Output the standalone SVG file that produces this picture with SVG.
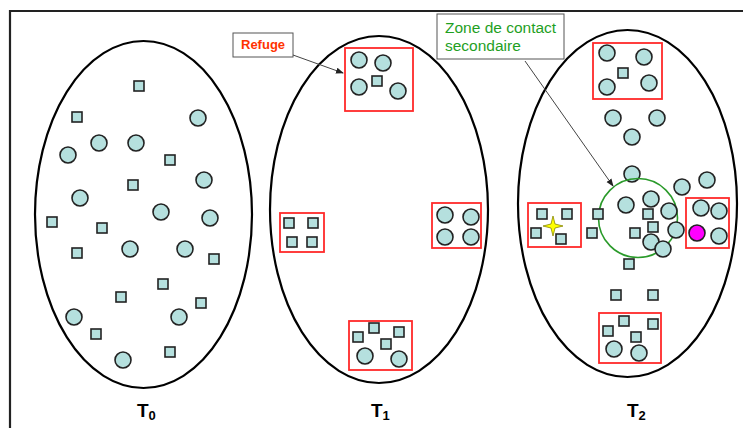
<svg xmlns="http://www.w3.org/2000/svg" width="743" height="428" viewBox="0 0 743 428">
<style>
.c{fill:#b5e0de;stroke:#222;stroke-width:1.6}
.s{fill:#b5e0de;stroke:#222;stroke-width:1.6}
.ell{fill:none;stroke:#000;stroke-width:2.2}
.box{fill:none;stroke:#ff2a2a;stroke-width:1.8}
.lbl{fill:#fff;stroke:#555;stroke-width:1}
.t{font-family:"Liberation Sans",Arial,sans-serif;font-weight:bold;font-size:19px;fill:#000}
.sub{font-size:13px}
</style>
<defs>
<marker id="ah" markerWidth="8" markerHeight="8" refX="7" refY="4" orient="auto" markerUnits="userSpaceOnUse">
<path d="M0,1 L8,4 L0,7 Z" fill="#222"/>
</marker>
</defs>
<rect x="0" y="0" width="743" height="428" fill="#fff"/>
<path d="M10,428 L10,11 L743,11" fill="none" stroke="#222" stroke-width="2.2"/>

<g id="T0">
<ellipse class="ell" cx="143.5" cy="214.5" rx="108.5" ry="173.5"/>
<g class="c">
<circle cx="198" cy="118" r="8"/><circle cx="99" cy="143" r="8"/><circle cx="136" cy="143" r="8"/>
<circle cx="68" cy="155" r="8"/><circle cx="204" cy="180" r="8"/><circle cx="80" cy="198" r="8"/>
<circle cx="161" cy="212" r="8"/><circle cx="210" cy="218" r="8"/><circle cx="130" cy="249" r="8"/>
<circle cx="185" cy="249" r="8"/><circle cx="74" cy="317" r="8"/><circle cx="179" cy="317" r="8"/>
<circle cx="123" cy="360" r="8"/>
</g>
<g class="s">
<rect x="134" y="81" width="10" height="10"/><rect x="72" y="112" width="10" height="10"/>
<rect x="165" y="155" width="10" height="10"/><rect x="128" y="180" width="10" height="10"/>
<rect x="47" y="217" width="10" height="10"/><rect x="97" y="223" width="10" height="10"/>
<rect x="72" y="248" width="10" height="10"/><rect x="209" y="254" width="10" height="10"/>
<rect x="158" y="279" width="10" height="10"/><rect x="116" y="292" width="10" height="10"/>
<rect x="196" y="298" width="10" height="10"/><rect x="91" y="329" width="10" height="10"/>
<rect x="165" y="347" width="10" height="10"/>
</g>
<text class="t" x="137" y="417">T<tspan class="sub" dy="3">0</tspan></text>
</g>

<g id="T1">
<ellipse class="ell" cx="379" cy="209.5" rx="109" ry="173.5"/>
<g id="refuge-top">
<rect class="box" x="345" y="48" width="68" height="63"/>
<g class="c"><circle cx="359" cy="60" r="8"/><circle cx="383" cy="63" r="8"/><circle cx="359" cy="87" r="8"/><circle cx="398" cy="91" r="8"/></g>
<rect class="s" x="372" y="76" width="10" height="10"/>
</g>
<g id="refuge-left">
<rect class="box" x="280" y="213" width="44" height="39"/>
<g class="s"><rect x="284" y="218" width="10" height="10"/><rect x="308" y="218" width="10" height="10"/><rect x="287" y="237" width="10" height="10"/><rect x="307" y="237" width="10" height="10"/></g>
</g>
<g id="refuge-right">
<rect class="box" x="432" y="203" width="49" height="45"/>
<g class="c"><circle cx="445" cy="215" r="8"/><circle cx="471" cy="217" r="8"/><circle cx="445" cy="237" r="8"/><circle cx="471" cy="237" r="8"/></g>
</g>
<g id="refuge-bottom">
<rect class="box" x="349" y="321" width="63" height="49"/>
<g class="s"><rect x="369" y="323" width="10" height="10"/><rect x="353" y="332" width="10" height="10"/><rect x="394" y="327" width="10" height="10"/><rect x="381" y="339" width="10" height="10"/></g>
<g class="c"><circle cx="365" cy="356" r="8"/><circle cx="399" cy="359" r="8"/></g>
</g>
<text class="t" x="371" y="417">T<tspan class="sub" dy="3">1</tspan></text>
</g>

<g id="T2">
<ellipse class="ell" cx="627.5" cy="203.5" rx="109.5" ry="173.5"/>
<g id="r2-top">
<rect class="box" x="593" y="43" width="69" height="56"/>
<g class="c"><circle cx="607" cy="53" r="8"/><circle cx="644" cy="57" r="8"/><circle cx="607" cy="87" r="8"/><circle cx="649" cy="83" r="8"/></g>
<rect class="s" x="618" y="68" width="10" height="10"/>
</g>
<g class="c">
<circle cx="613" cy="118" r="8"/><circle cx="657" cy="118" r="8"/><circle cx="632" cy="137" r="8"/>
<circle cx="632" cy="174" r="8"/><circle cx="682" cy="187" r="8"/><circle cx="707" cy="180" r="8"/>
</g>
<g id="contact-zone">
<circle cx="638" cy="218" r="39.5" fill="none" stroke="#2a9a2a" stroke-width="1.6"/>
<g class="c">
<circle cx="626" cy="205" r="8"/><circle cx="651" cy="199" r="8"/><circle cx="669" cy="211" r="8"/>
<circle cx="676" cy="230" r="8"/><circle cx="651" cy="242" r="8"/><circle cx="663" cy="249" r="8"/>
</g>
<g class="s">
<rect x="643" y="209" width="10" height="10"/><rect x="648" y="222" width="10" height="10"/>
<rect x="630" y="228" width="10" height="10"/>
</g>
</g>
<g class="s">
<rect x="593" y="209" width="10" height="10"/><rect x="587" y="228" width="10" height="10"/>
<rect x="624" y="259" width="10" height="10"/>
<rect x="611" y="290" width="10" height="10"/><rect x="648" y="290" width="10" height="10"/>
</g>
<g id="r2-left">
<rect class="box" x="528" y="203" width="53" height="44"/>
<g class="s"><rect x="537" y="209" width="10" height="10"/><rect x="562" y="209" width="10" height="10"/><rect x="531" y="228" width="10" height="10"/><rect x="556" y="234" width="10" height="10"/></g>
<path d="M553,216 L555,224 L563,226 L555,228 L553,236 L551,228 L543,226 L551,224 Z" fill="#ffff00" stroke="#888800" stroke-width="0.8"/>
</g>
<g id="r2-right">
<rect class="box" x="686" y="198" width="43" height="50"/>
<g class="c"><circle cx="701" cy="208" r="8"/><circle cx="719" cy="211" r="8"/><circle cx="719" cy="236" r="8"/></g>
<circle cx="697" cy="233" r="8" fill="#ff00ff" stroke="#222" stroke-width="1.6"/>
</g>
<g id="r2-bottom">
<rect class="box" x="599" y="313" width="62" height="50"/>
<g class="s"><rect x="619" y="316" width="10" height="10"/><rect x="648" y="319" width="10" height="10"/><rect x="603" y="326" width="10" height="10"/><rect x="631" y="332" width="10" height="10"/></g>
<g class="c"><circle cx="614" cy="349" r="8"/><circle cx="639" cy="353" r="8"/></g>
</g>
<text class="t" x="627" y="417">T<tspan class="sub" dy="3">2</tspan></text>
</g>

<g id="label-refuge">
<rect class="lbl" x="233" y="33" width="60" height="24"/>
<text x="241" y="49" font-family="Liberation Sans,Arial,sans-serif" font-weight="bold" font-size="13" fill="#ff3300">Refuge</text>
</g>
<g id="label-zone">
<rect class="lbl" x="437" y="14" width="127" height="45"/>
<text font-family="Liberation Sans,Arial,sans-serif" font-size="15.5" fill="#1fa01f"><tspan x="445" y="33">Zone de contact</tspan><tspan x="445" y="51">secondaire</tspan></text>
</g>

<g id="connectors" stroke="#444" stroke-width="1" fill="none">
<line x1="293" y1="55" x2="343" y2="73" marker-end="url(#ah)"/>
<line x1="525" y1="61" x2="613" y2="186" marker-end="url(#ah)"/>
</g>
</svg>
